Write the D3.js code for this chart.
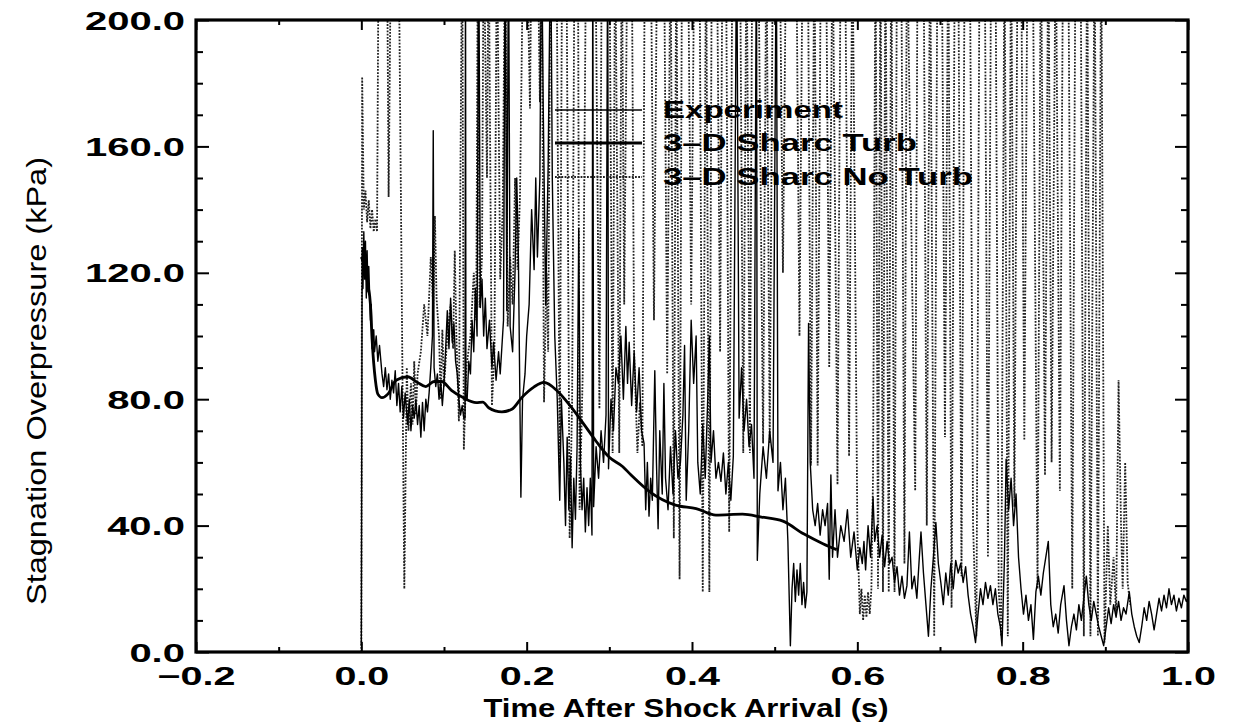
<!DOCTYPE html>
<html>
<head>
<meta charset="utf-8">
<script src="https://cdn.jsdelivr.net/npm/d3@7/dist/d3.min.js"></script>
<style>
  html, body { margin: 0; padding: 0; background: #fff; }
  svg { display: block; }
</style>
</head>
<body>
<svg id="chart" width="1249" height="727"></svg>
<script>
// ---------------- DATA (time s, overpressure kPa) ----------------
const xMajorTicks = [-0.2, 0.0, 0.2, 0.4, 0.6, 0.8, 1.0];
const xMinorTicks = [-0.1, 0.1, 0.3, 0.5, 0.7, 0.9];
const yMajorTicks = [0, 40, 80, 120, 160, 200];
const yMinorTicks = [10, 20, 30, 50, 60, 70, 90, 100, 110, 130, 140, 150, 170, 180, 190];
const seriesNames = ["Experiment", "3\u2013D Sharc Turb", "3\u2013D Sharc No Turb"];
const xTitle = "Time After Shock Arrival (s)";
const yTitle = "Stagnation Overpressure (kPa)";

const turb = [
  [0.000,125],[0.004,122],[0.008,116],[0.011,110],[0.013,99],[0.017,86],[0.020,81.6],[0.025,80.5],[0.032,81.6],
  [0.042,86],[0.056,87.1],[0.068,85.3],[0.078,84],[0.088,85.6],[0.097,85.6],[0.109,82.8],
  [0.123,80.5],[0.139,78.9],[0.147,79.1],[0.154,77.3],[0.170,76],[0.182,76.8],[0.194,80.5],
  [0.209,83.9],[0.221,85.3],[0.237,82.6],[0.253,77.8],[0.268,72.5],[0.284,66.7],[0.300,61.6],
  [0.316,58.7],[0.326,56.1],[0.349,50.7],[0.380,46.5],[0.405,45.4],[0.429,43.3],[0.461,43.6],
  [0.484,42.7],[0.510,41.4],[0.535,37.4],[0.559,34.2],[0.575,32.4]
];

const experiment = [
  [0.000,2],[0.001,128],[0.002,115],[0.003,133],[0.004,118],[0.005,130],[0.006,112],[0.007,127],[0.008,114],[0.009,122],
  [0.011,105],[0.012,110],[0.013,96],[0.015,102],[0.016,95],[0.018,100],[0.020,92],[0.022,97],
  [0.025,88],[0.027,84],[0.029,90],[0.031,83],[0.033,88],[0.035,80],[0.037,86],[0.039,82],[0.041,89],[0.043,78],
  [0.045,85],[0.047,76],[0.049,84],[0.051,74],[0.053,82],[0.056,72],[0.058,80],[0.060,70],[0.062,78],[0.064,74],
  [0.066,80],[0.068,72],[0.070,78],[0.072,68],[0.074,79],[0.076,70],[0.078,80],[0.080,76],[0.082,82],[0.084,90],
  [0.086,100],[0.087,165],[0.088,90],[0.090,84],[0.092,88],[0.094,80],[0.096,86],[0.098,78],[0.100,85],[0.102,96],
  [0.104,108],[0.106,96],[0.108,112],[0.110,98],[0.112,104],[0.114,92],[0.116,88],[0.118,80],[0.120,75],[0.122,78],
  [0.124,74],[0.1255,74],[0.126,230],[0.1265,80],[0.128,80],[0.130,92],[0.132,88],[0.134,105],[0.136,95],[0.138,115],
  [0.140,100],[0.142,230],[0.144,109],[0.146,118],[0.148,100],[0.150,112],[0.152,96],[0.155,105],[0.158,90],[0.160,98],
  [0.163,86],[0.166,95],[0.168,88],[0.172,105],[0.174,230],[0.176,108],[0.178,230],[0.180,103],[0.183,95],[0.186,121],
  [0.188,150],[0.190,125],[0.192,75],[0.193,49],[0.195,80],[0.198,88],[0.200,100],[0.203,110],[0.206,140],[0.209,121],
  [0.211,150],[0.213,125],[0.216,150],[0.218,230],[0.220,173],[0.223,110],[0.226,154],[0.229,230],[0.231,150],[0.234,100],
  [0.237,80],[0.240,48],[0.242,80],[0.245,60],[0.247,40],[0.249,68],[0.251,45],[0.253,62],[0.255,33],[0.257,55],
  [0.259,42],[0.261,65],[0.263,134],[0.265,60],[0.267,45],[0.269,55],[0.271,38],[0.273,52],[0.275,40],[0.277,55],
  [0.279,37],[0.280,230],[0.281,46],[0.284,65],[0.287,55],[0.290,70],[0.293,60],[0.296,75],[0.298,230],[0.299,58],
  [0.302,80],[0.305,70],[0.308,90],[0.311,85],[0.314,100],[0.317,80],[0.320,103],[0.322,85],[0.324,98],[0.327,78],
  [0.330,95],[0.333,76],[0.336,90],[0.339,70],[0.342,66],[0.344,45],[0.346,60],[0.348,43],[0.350,55],[0.352,48],
  [0.355,89],[0.357,60],[0.359,39],[0.361,70],[0.364,50],[0.366,85],[0.368,55],[0.371,45],[0.374,65],[0.377,50],
  [0.380,70],[0.383,55],[0.386,60],[0.389,75],[0.391,97],[0.393,48],[0.396,70],[0.399,105],[0.402,85],[0.405,100],
  [0.407,60],[0.410,50],[0.413,72],[0.416,55],[0.419,80],[0.421,100],[0.423,60],[0.426,70],[0.429,55],[0.432,60],
  [0.435,54],[0.438,63],[0.441,50],[0.444,60],[0.447,48],[0.450,62],[0.454,230],[0.457,74],[0.460,90],[0.463,70],
  [0.466,80],[0.469,65],[0.472,72],[0.475,55],[0.478,230],[0.479,29],[0.482,50],[0.486,65],[0.490,55],[0.494,70],
  [0.498,60],[0.502,230],[0.504,51],[0.507,60],[0.510,45],[0.513,55],[0.516,35],[0.519,2],[0.521,20],[0.523,28],
  [0.525,16],[0.527,26],[0.529,18],[0.531,28],[0.533,15],[0.535,22],[0.537,14],[0.539,19],[0.541,104],[0.543,60],
  [0.546,45],[0.549,40],[0.552,47],[0.555,37],[0.558,45],[0.561,40],[0.564,47],[0.566,23],[0.568,56],[0.570,30],
  [0.573,45],[0.576,30],[0.580,40],[0.584,35],[0.588,45],[0.592,30],[0.596,38],[0.600,26],[0.603,33],[0.606,28],
  [0.608,35],[0.610,26],[0.613,40],[0.616,30],[0.619,49],[0.621,35],[0.624,40],[0.627,30],[0.630,37],[0.633,27],
  [0.636,35],[0.639,28],[0.642,30],[0.645,22],[0.648,27],[0.651,18],[0.654,24],[0.657,17],[0.660,21],[0.663,38],
  [0.666,20],[0.669,24],[0.672,17],[0.675,30],[0.677,38],[0.680,25],[0.683,15],[0.686,5],[0.689,20],[0.692,30],
  [0.695,41],[0.698,28],[0.701,22],[0.704,15],[0.707,25],[0.710,18],[0.713,28],[0.716,20],[0.719,29],[0.722,25],
  [0.725,28],[0.728,22],[0.731,27],[0.734,18],[0.737,12],[0.740,8],[0.743,3],[0.746,12],[0.749,20],[0.752,15],
  [0.755,22],[0.758,17],[0.761,21],[0.764,15],[0.767,20],[0.770,12],[0.773,8],[0.775,2],[0.778,30],[0.780,61],
  [0.783,45],[0.786,55],[0.789,40],[0.792,50],[0.795,30],[0.798,20],[0.801,12],[0.804,18],[0.807,10],[0.810,15],
  [0.813,4],[0.816,19],[0.819,24],[0.822,18],[0.825,25],[0.828,30],[0.831,35],[0.834,15],[0.837,8],[0.840,12],
  [0.843,6],[0.846,15],[0.850,21],[0.853,10],[0.856,2],[0.859,8],[0.862,12],[0.865,7],[0.868,15],[0.871,10],
  [0.874,17],[0.877,24],[0.880,15],[0.883,10],[0.886,16],[0.889,12],[0.892,8],[0.895,5],[0.898,2],[0.901,8],
  [0.904,14],[0.907,9],[0.910,15],[0.913,11],[0.916,16],[0.919,10],[0.922,14],[0.925,12],[0.929,19],[0.932,12],
  [0.935,8],[0.938,5],[0.941,3],[0.944,8],[0.947,14],[0.950,10],[0.953,16],[0.956,12],[0.959,7],[0.962,12],
  [0.965,17],[0.968,13],[0.971,18],[0.974,14],[0.977,20],[0.980,15],[0.983,18],[0.986,13],[0.989,17],[0.992,14],
  [0.995,18],[0.998,16],[1.000,17]
];

const noTurb = [
  [0.000,0],[0.001,182],[0.003,140],[0.005,146],[0.007,136],[0.009,143],[0.011,134],[0.013,140],[0.015,133],[0.017,137],
  [0.019,133],[0.021,230],[0.031,230],[0.033,144],[0.036,230],[0.045,230],[0.052,20],[0.055,90],[0.057,70],[0.060,85],
  [0.062,72],[0.064,92],[0.066,75],[0.068,88],[0.072,95],[0.076,110],[0.080,100],[0.084,125],[0.087,109],[0.089,138],
  [0.091,112],[0.094,100],[0.096,80],[0.098,102],[0.100,84],[0.104,100],[0.108,110],[0.111,96],[0.113,127],[0.115,100],
  [0.118,73],[0.120,156],[0.122,230],[0.124,64],[0.127,90],[0.132,100],[0.136,120],[0.139,105],[0.141,230],[0.143,109],
  [0.146,125],[0.148,230],[0.152,150],[0.154,230],[0.158,78],[0.161,95],[0.164,230],[0.168,118],[0.171,140],[0.174,230],
  [0.177,103],[0.180,125],[0.183,110],[0.186,150],[0.189,121],[0.192,145],[0.196,230],[0.200,230],[0.204,172],[0.206,230],
  [0.213,230],[0.216,174],[0.218,230],[0.221,79],[0.224,120],[0.226,95],[0.229,230],[0.236,230],[0.240,60],[0.243,230],
  [0.248,230],[0.252,36],[0.255,80],[0.258,230],[0.262,230],[0.264,45],[0.268,90],[0.272,230],[0.283,230],[0.288,77],
  [0.291,230],[0.300,230],[0.304,63],[0.307,230],[0.312,63],[0.315,230],[0.318,110],[0.322,230],[0.327,230],[0.330,95],
  [0.334,63],[0.337,79],[0.340,65],[0.343,230],[0.350,230],[0.354,105],[0.358,230],[0.366,230],[0.370,88],[0.374,230],
  [0.378,36],[0.381,230],[0.385,23],[0.388,230],[0.395,230],[0.399,110],[0.403,230],[0.409,230],[0.413,19],[0.417,230],
  [0.421,19],[0.424,230],[0.430,230],[0.434,95],[0.437,230],[0.441,230],[0.445,38],[0.449,230],[0.458,230],[0.462,63],
  [0.466,230],[0.470,63],[0.473,230],[0.480,230],[0.486,66],[0.490,230],[0.494,66],[0.498,230],[0.506,230],[0.510,120],
  [0.514,230],[0.526,230],[0.530,100],[0.534,230],[0.540,230],[0.544,59],[0.548,230],[0.552,59],[0.556,230],[0.562,230],
  [0.566,90],[0.570,230],[0.576,53],[0.580,230],[0.585,230],[0.590,62],[0.594,230],[0.600,40],[0.603,12],[0.605,20],
  [0.607,10],[0.609,18],[0.611,11],[0.613,19],[0.615,12],[0.617,20],[0.619,56],[0.622,230],[0.625,20],[0.628,230],
  [0.631,19],[0.634,230],[0.638,19],[0.641,230],[0.645,19],[0.648,230],[0.653,230],[0.657,28],[0.660,230],[0.670,51],
  [0.673,230],[0.680,230],[0.684,40],[0.688,230],[0.693,5],[0.697,230],[0.702,230],[0.706,68],[0.710,230],[0.714,14],
  [0.718,230],[0.722,230],[0.726,24],[0.730,230],[0.736,230],[0.740,40],[0.744,5],[0.748,230],[0.754,230],[0.758,30],
  [0.762,230],[0.767,230],[0.771,20],[0.774,5],[0.778,230],[0.782,5],[0.786,230],[0.790,46],[0.794,230],[0.798,230],
  [0.802,67],[0.806,230],[0.812,230],[0.818,20],[0.822,230],[0.827,56],[0.831,230],[0.835,60],[0.840,230],[0.845,51],
  [0.849,230],[0.855,230],[0.860,20],[0.864,230],[0.870,230],[0.874,5],[0.878,230],[0.882,5],[0.887,230],[0.891,5],
  [0.895,230],[0.899,3],[0.903,40],[0.906,15],[0.910,30],[0.913,12],[0.916,86],[0.919,40],[0.921,20],[0.924,60],
  [0.927,22],[0.930,15]
];

// ---------------- CHART ----------------
const svg = d3.select("#chart");
const L = 196, R = 1188, T = 20, B = 652;
const x = d3.scaleLinear().domain([-0.2, 1.0]).range([L, R]);
const y = d3.scaleLinear().domain([0, 200]).range([B, T]);

svg.append("defs").append("clipPath").attr("id", "plotclip")
  .append("rect").attr("x", L).attr("y", T).attr("width", R - L).attr("height", B - T);

const plot = svg.append("g").attr("clip-path", "url(#plotclip)");
const line = d3.line().x(d => x(d[0])).y(d => y(d[1]));

plot.append("path").datum(noTurb).attr("d", line)
  .attr("fill", "none").attr("stroke", "#222").attr("stroke-width", 1.8)
  .attr("stroke-dasharray", "1.8,1.4");

plot.append("path").datum(experiment).attr("d", line)
  .attr("fill", "none").attr("stroke", "#000").attr("stroke-width", 1.4)
  .attr("stroke-linejoin", "round");

plot.append("path").datum(turb).attr("d", d3.line().curve(d3.curveMonotoneX).x(d => x(d[0])).y(d => y(d[1])))
  .attr("fill", "none").attr("stroke", "#000").attr("stroke-width", 2.8);

// axes (ticks inward on all sides)
const fmt = d3.format(".1f");
function styleAxis(g) { g.select(".domain").remove(); g.selectAll("line").attr("stroke", "#000").attr("stroke-width", 2); }

const gB = svg.append("g").attr("transform", `translate(0,${B})`)
  .call(d3.axisBottom(x).tickValues(xMajorTicks).tickSize(-10).tickPadding(15).tickFormat(fmt)).call(styleAxis);
svg.append("g").attr("transform", `translate(0,${B})`)
  .call(d3.axisBottom(x).tickValues(xMinorTicks).tickSize(-5).tickFormat("")).call(styleAxis);
svg.append("g").attr("transform", `translate(0,${T})`)
  .call(d3.axisTop(x).tickValues(xMajorTicks).tickSize(-10).tickFormat("")).call(styleAxis);
svg.append("g").attr("transform", `translate(0,${T})`)
  .call(d3.axisTop(x).tickValues(xMinorTicks).tickSize(-5).tickFormat("")).call(styleAxis);

const gL = svg.append("g").attr("transform", `translate(${L},0)`)
  .call(d3.axisLeft(y).tickValues(yMajorTicks).tickSize(-13).tickFormat(fmt)).call(styleAxis);
svg.append("g").attr("transform", `translate(${L},0)`)
  .call(d3.axisLeft(y).tickValues(yMinorTicks).tickSize(-7).tickFormat("")).call(styleAxis);
svg.append("g").attr("transform", `translate(${R},0)`)
  .call(d3.axisRight(y).tickValues(yMajorTicks).tickSize(-13).tickFormat("")).call(styleAxis);
svg.append("g").attr("transform", `translate(${R},0)`)
  .call(d3.axisRight(y).tickValues(yMinorTicks).tickSize(-7).tickFormat("")).call(styleAxis);

// frame
svg.append("rect").attr("x", L).attr("y", T).attr("width", R - L).attr("height", B - T)
  .attr("fill", "none").attr("stroke", "#000").attr("stroke-width", 3.2);

// tick label styling (wide bold face)
function widen(sel, factor) {
  sel.each(function() {
    const w = this.getComputedTextLength();
    d3.select(this).attr("textLength", w * factor).attr("lengthAdjust", "spacingAndGlyphs");
  });
}
[gB, gL].forEach(g => g.selectAll("text")
  .attr("font-family", "'Liberation Sans', Arial, sans-serif")
  .attr("font-weight", "bold").attr("font-size", 25).attr("fill", "#000"));
gB.selectAll("text").attr("dy", "0.71em");
gL.selectAll("text").attr("x", 185 - L).attr("dy", "0.36em");
widen(gB.selectAll("text"), 1.58);
widen(gL.selectAll("text"), 1.6);

// axis titles
const xt = svg.append("text").attr("x", 686).attr("y", 717).attr("text-anchor", "middle")
  .attr("font-family", "'Liberation Sans', Arial, sans-serif").attr("font-weight", "bold")
  .attr("font-size", 25).text(xTitle);
xt.attr("textLength", 405).attr("lengthAdjust", "spacingAndGlyphs");

const yt = svg.append("text").attr("transform", "translate(46,381) rotate(-90)").attr("text-anchor", "middle")
  .attr("font-family", "'Liberation Sans Narrow', 'Liberation Sans', Arial, sans-serif")
  .attr("font-size", 28).text(yTitle);
yt.attr("textLength", 448).attr("lengthAdjust", "spacingAndGlyphs");

// legend
const legY = [110, 143, 177];
const legStyles = [
  {w: 1.4, dash: null, c: "#000"},
  {w: 2.8, dash: null, c: "#000"},
  {w: 1.8, dash: "1.8,1.4", c: "#222"}
];
const legWidths = [180, 254, 310];
const leg = svg.append("g");
seriesNames.forEach((name, i) => {
  const ln = leg.append("line").attr("x1", 555).attr("x2", 642).attr("y1", legY[i]).attr("y2", legY[i])
    .attr("stroke", legStyles[i].c).attr("stroke-width", legStyles[i].w);
  if (legStyles[i].dash) ln.attr("stroke-dasharray", legStyles[i].dash);
  leg.append("text").attr("x", 663).attr("y", legY[i] + 8)
    .attr("font-family", "'Liberation Sans', Arial, sans-serif").attr("font-weight", "bold")
    .attr("font-size", 23).attr("textLength", legWidths[i]).attr("lengthAdjust", "spacingAndGlyphs")
    .text(name);
});
</script>
</body>
</html>
